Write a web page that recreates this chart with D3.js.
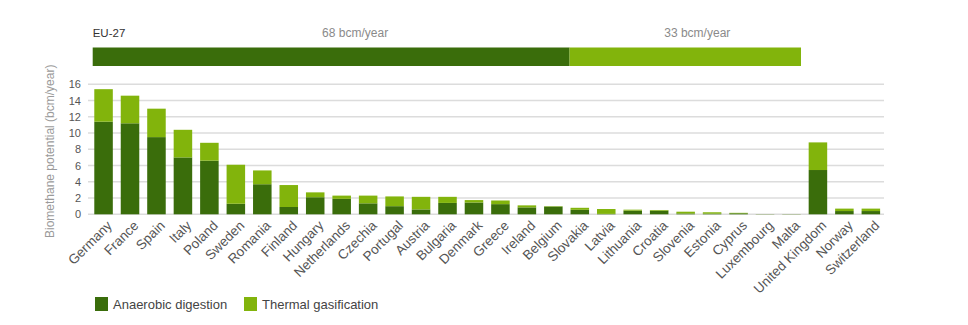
<!DOCTYPE html>
<html>
<head>
<meta charset="utf-8">
<script src="https://cdn.jsdelivr.net/npm/d3@7"></script>
<style>
  html, body { margin: 0; padding: 0; background: #fff; }
  svg { display: block; font-family: "Liberation Sans", Arial, Helvetica, sans-serif; }
</style>
</head>
<body>
<svg id="chart" width="968" height="325"></svg>
<script>
const countries = ["Germany","France","Spain","Italy","Poland","Sweden","Romania","Finland","Hungary","Netherlands","Czechia","Portugal","Austria","Bulgaria","Denmark","Greece","Ireland","Belgium","Slovakia","Latvia","Lithuania","Croatia","Slovenia","Estonia","Cyprus","Luxembourg","Malta","United Kingdom","Norway","Switzerland"];
const anaerobic = [11.4,11.2,9.5,7.0,6.6,1.3,3.7,0.9,2.1,1.9,1.35,1.0,0.6,1.4,1.45,1.25,0.85,0.95,0.55,0.05,0.45,0.45,0.1,0.08,0.12,0.02,0.02,5.45,0.4,0.4];
const thermal   = [4.0,3.4,3.5,3.4,2.2,4.8,1.7,2.7,0.6,0.4,0.95,1.2,1.55,0.75,0.3,0.45,0.25,0.05,0.25,0.6,0.12,0.08,0.22,0.17,0.06,0.01,0.01,3.4,0.3,0.3];
const yTicks = [0,2,4,6,8,10,12,14,16];
const euLabels = ["68 bcm/year","33 bcm/year"];
const euValues = [68, 33];
const seriesNames = ["Anaerobic digestion","Thermal gasification"];
const colors = ["#3a6d0b","#82b40c"];

const svg = d3.select("#chart");

// EU-27 summary bar
const xEU = d3.scaleLinear().domain([0, d3.sum(euValues)]).range([92.7, 801]);
svg.append("text").attr("x", 92.7).attr("y", 37).attr("font-size", 11.5).attr("fill", "#333").text("EU-27");
let acc = 0;
euValues.forEach((v, i) => {
  svg.append("rect").attr("x", xEU(acc)).attr("y", 47.5).attr("width", xEU(acc + v) - xEU(acc)).attr("height", 18.5).attr("fill", colors[i]);
  const cx = (xEU(acc) + xEU(acc + v)) / 2 + (i === 0 ? 24 : 12);
  svg.append("text").attr("x", cx).attr("y", 36.5).attr("text-anchor", "middle").attr("font-size", 12).attr("fill", "#8a8a8a").text(euLabels[i]);
  acc += v;
});

// Main chart
const x = d3.scaleBand().domain(countries).range([89, 885.4]).paddingInner(0.3).paddingOuter(0.2);
const y = d3.scaleLinear().domain([0, 16]).range([214.3, 84.3]);

// gridlines
svg.append("g").selectAll("line").data(yTicks).join("line")
  .attr("x1", 88).attr("x2", 884)
  .attr("y1", d => y(d)).attr("y2", d => y(d))
  .attr("stroke", "#dcdcdc").attr("stroke-width", 1.5);

// y axis labels
const yAxis = d3.axisLeft(y).tickValues(yTicks).tickSize(0).tickPadding(0);
const ga = svg.append("g").attr("transform", "translate(81,0)").call(yAxis);
ga.select(".domain").remove();
ga.selectAll("text").attr("font-size", 11).attr("fill", "#555").attr("font-family", "Liberation Sans, Arial, sans-serif");

// y title
svg.append("text").attr("transform", `translate(54,${y(8) + 2}) rotate(-90)`)
  .attr("text-anchor", "middle").attr("font-size", 12).attr("fill", "#9a9a9a")
  .text("Biomethane potential (bcm/year)");

// stacked bars
const data = countries.map((c, i) => ({country: c, ad: anaerobic[i], tg: thermal[i]}));
const stack = d3.stack().keys(["ad", "tg"])(data);
svg.append("g").selectAll("g").data(stack).join("g")
  .attr("fill", (d, i) => colors[i])
  .selectAll("rect").data(d => d).join("rect")
  .attr("x", d => x(d.data.country))
  .attr("width", x.bandwidth())
  .attr("y", d => y(d[1]))
  .attr("height", d => y(d[0]) - y(d[1]));

// x labels
svg.append("g").selectAll("text").data(countries).join("text")
  .attr("transform", d => `translate(${x(d) + x.bandwidth() / 2 + 6},${223}) rotate(-45)`)
  .attr("text-anchor", "end").attr("dy", "0.35em")
  .attr("font-size", 13.5).attr("fill", "#555")
  .text(d => d);

// legend
const legendX = [95, 244];
seriesNames.forEach((n, i) => {
  svg.append("rect").attr("x", legendX[i]).attr("y", 297).attr("width", 13).attr("height", 14).attr("fill", colors[i]);
  svg.append("text").attr("x", legendX[i] + 18).attr("y", 308.5).attr("font-size", 13).attr("fill", "#444").text(n);
});
</script>
</body>
</html>
